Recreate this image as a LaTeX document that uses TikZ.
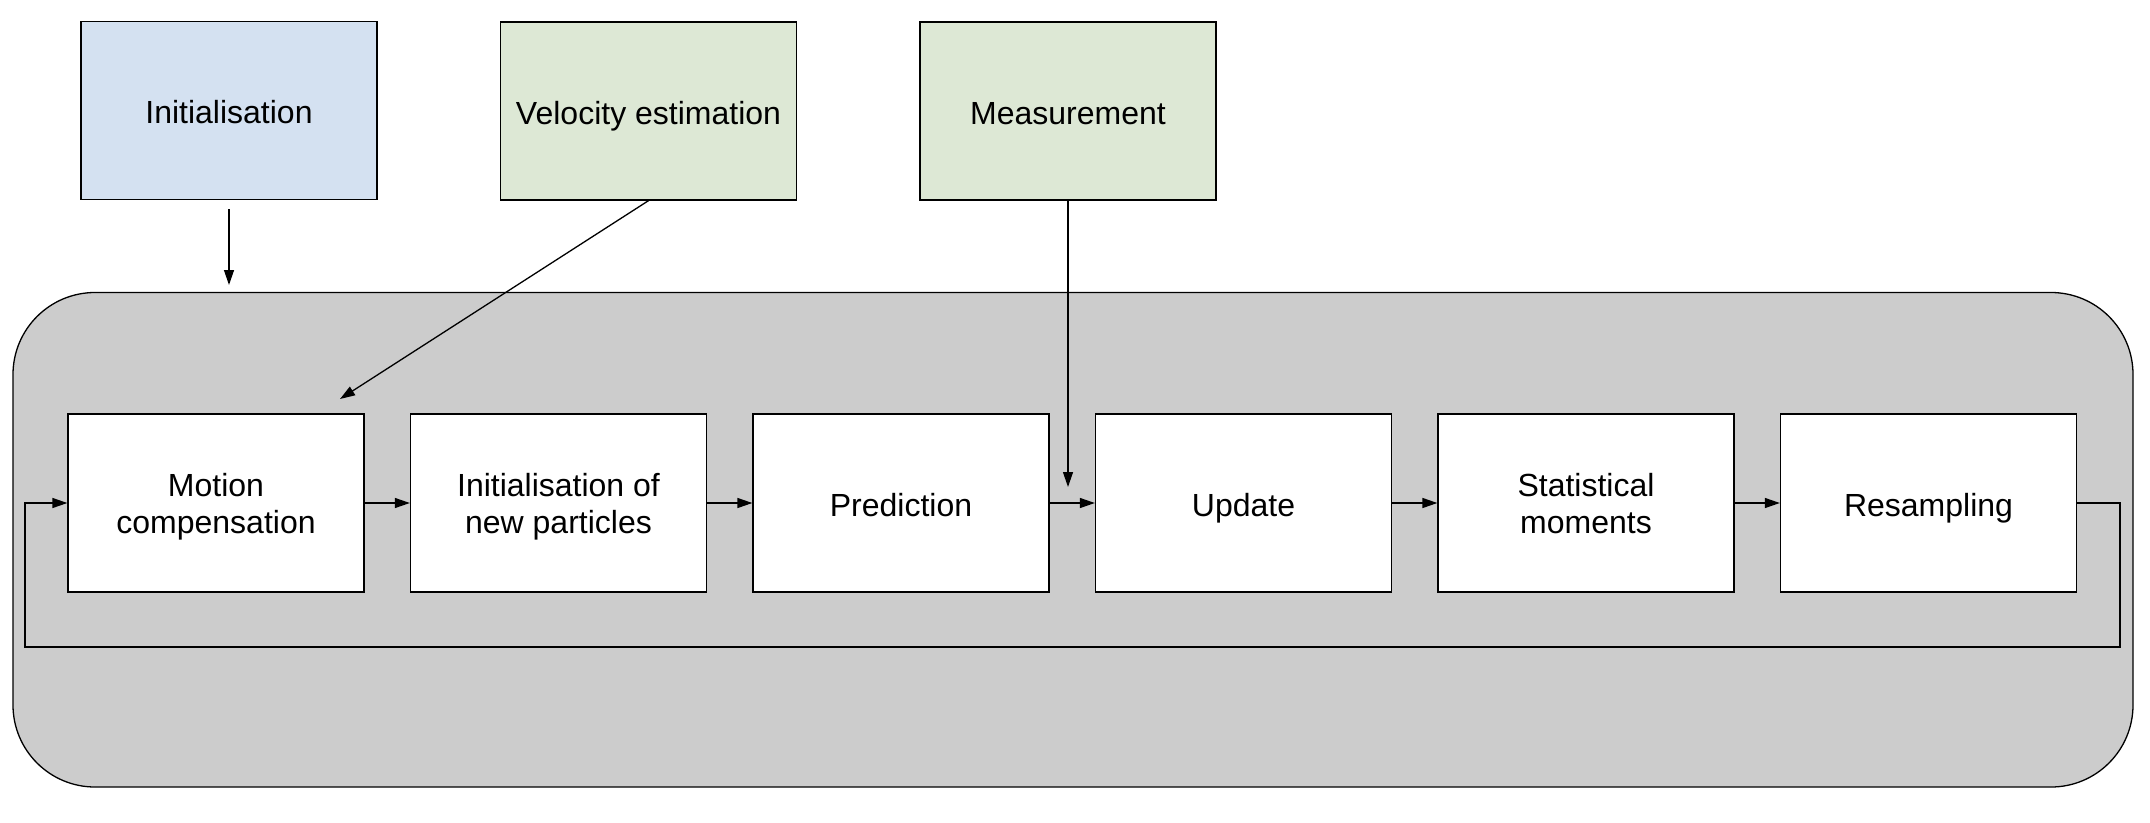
\documentclass[tikz,border=0pt]{standalone}
\usepackage{fontspec}
\setmainfont{Liberation Sans}
\usetikzlibrary{arrows.meta}
\definecolor{initblue}{HTML}{D4E1F1}
\definecolor{estgreen}{HTML}{DDE8D5}
\definecolor{contgray}{HTML}{CCCCCC}
\tikzset{
  every node/.style={font=\fontsize{32}{36.5}\selectfont},
  box/.style={draw=black, line width=1.3pt, fill=white, minimum width=296pt, minimum height=178pt, inner sep=0pt, align=center, text height=26.5pt, text depth=0pt},
  twoline/.style={text height=60pt, text depth=0pt},
  topbox/.style={box},
  container/.style={draw=black, line width=1.3pt, fill=contgray, rounded corners=82pt, minimum width=2120pt, minimum height=494.5pt, inner sep=0pt},
  arr/.style={line width=1.3pt, -{Triangle[length=15pt,width=10pt]}},
}
\begin{document}
\begin{tikzpicture}[x=1pt,y=-1pt]
\useasboundingbox (0,0) rectangle (2150,822);
% container
\node[container] (cont) at (1073,539.75) {};
% top boxes
\node[topbox, fill=initblue] (init) at (229,110.5) {Initialisation};
\node[topbox, fill=estgreen] (vel) at (648.5,111) {Velocity estimation};
\node[topbox, fill=estgreen] (meas) at (1068,111) {Measurement};
% row boxes
\node[box, twoline] (mc) at (216,503) {Motion\\compensation};
\node[box, twoline] (inp) at (558.5,503) {Initialisation of\\new particles};
\node[box] (pred) at (901,503) {Prediction};
\node[box] (upd) at (1243.5,503) {Update};
\node[box, twoline] (stat) at (1586,503) {Statistical\\moments};
\node[box] (res) at (1928.5,503) {Resampling};
% free ends
\coordinate (iend) at (229,285);
\coordinate (vend) at (340,399);
\coordinate (mend) at (1068,487);
\coordinate (lr) at (2120,647);
\coordinate (ll) at (25,647);
% connectors
\draw[arr] ([yshift=-9pt]init.south) -- (iend);
\draw[arr] (vel.south) -- (vend);
\draw[arr] (meas.south) -- (mend);
\draw[arr] (mc.east) -- (inp.west);
\draw[arr] (inp.east) -- (pred.west);
\draw[arr] (pred.east) -- (upd.west);
\draw[arr] (upd.east) -- (stat.west);
\draw[arr] (stat.east) -- (res.west);
\draw[arr] (res.east) -| (lr) -- (ll) |- (mc.west);
\end{tikzpicture}
\end{document}
